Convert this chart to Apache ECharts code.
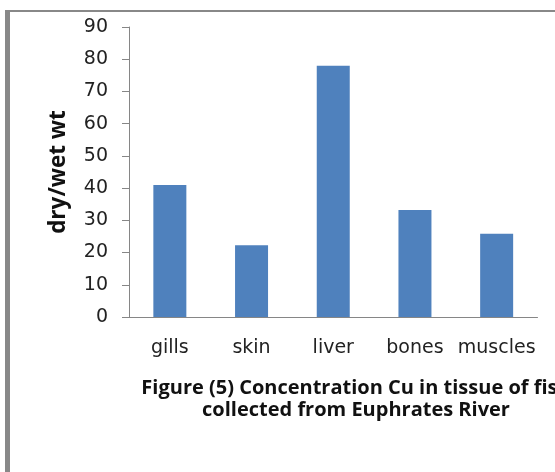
<!DOCTYPE html>
<html>
<head>
<meta charset="utf-8">
<script src="https://cdn.jsdelivr.net/npm/echarts@6/dist/echarts.min.js"></script>
<style>html,body{margin:0;padding:0;background:#fff}#c{width:555px;height:472px}</style>
</head>
<body>
<div id="c"></div>
<script>
var categories = ['gills', 'skin', 'liver', 'bones', 'muscles'];
var values = [41, 22.3, 78, 33.2, 25.8];
var yTitle = 'dry/wet wt';
var captionLines = ['Figure (5) Concentration Cu in tissue of fish', 'collected from Euphrates River'];

var chart = echarts.init(document.getElementById('c'), null, {renderer: 'canvas'});
chart.setOption({
  animation: false,
  backgroundColor: '#ffffff',
  grid: {left: 129, right: 17.5, top: 27, bottom: 155},
  title: {
    text: captionLines.join('\n'),
    left: 351, top: 372, textAlign: 'center',
    textStyle: {fontFamily: 'Open Sans', fontWeight: 'bold', fontSize: 20, lineHeight: 22, color: '#111'}
  },
  xAxis: {
    type: 'category', data: categories,
    axisLine: {lineStyle: {color: '#868686', width: 1}},
    axisTick: {show: false},
    axisLabel: {interval: 0, hideOverlap: false, margin: 22, fontFamily: 'DejaVu Sans', fontSize: 19, color: '#222'}
  },
  yAxis: {
    type: 'value', min: 0, max: 90, interval: 10,
    name: yTitle, nameLocation: 'middle', nameRotate: 90, nameGap: 59,
    nameTextStyle: {fontFamily: 'Open Sans', fontWeight: 'bold', fontSize: 22.5, color: '#111'},
    splitLine: {show: false},
    axisLine: {show: true, lineStyle: {color: '#868686', width: 1}},
    axisTick: {show: true, length: 7, lineStyle: {color: '#868686'}},
    axisLabel: {margin: 21, fontFamily: 'DejaVu Sans', fontSize: 19, color: '#222'}
  },
  series: [{
    type: 'bar', data: values, barWidth: 33,
    itemStyle: {color: '#4F81BD'}
  }],
  graphic: [
    {type: 'rect', shape: {x: 5, y: 10, width: 5, height: 462}, style: {fill: '#888888'}, silent: true},
    {type: 'rect', shape: {x: 5, y: 10, width: 550, height: 2}, style: {fill: '#888888'}, silent: true}
  ]
});
</script>
</body>
</html>
